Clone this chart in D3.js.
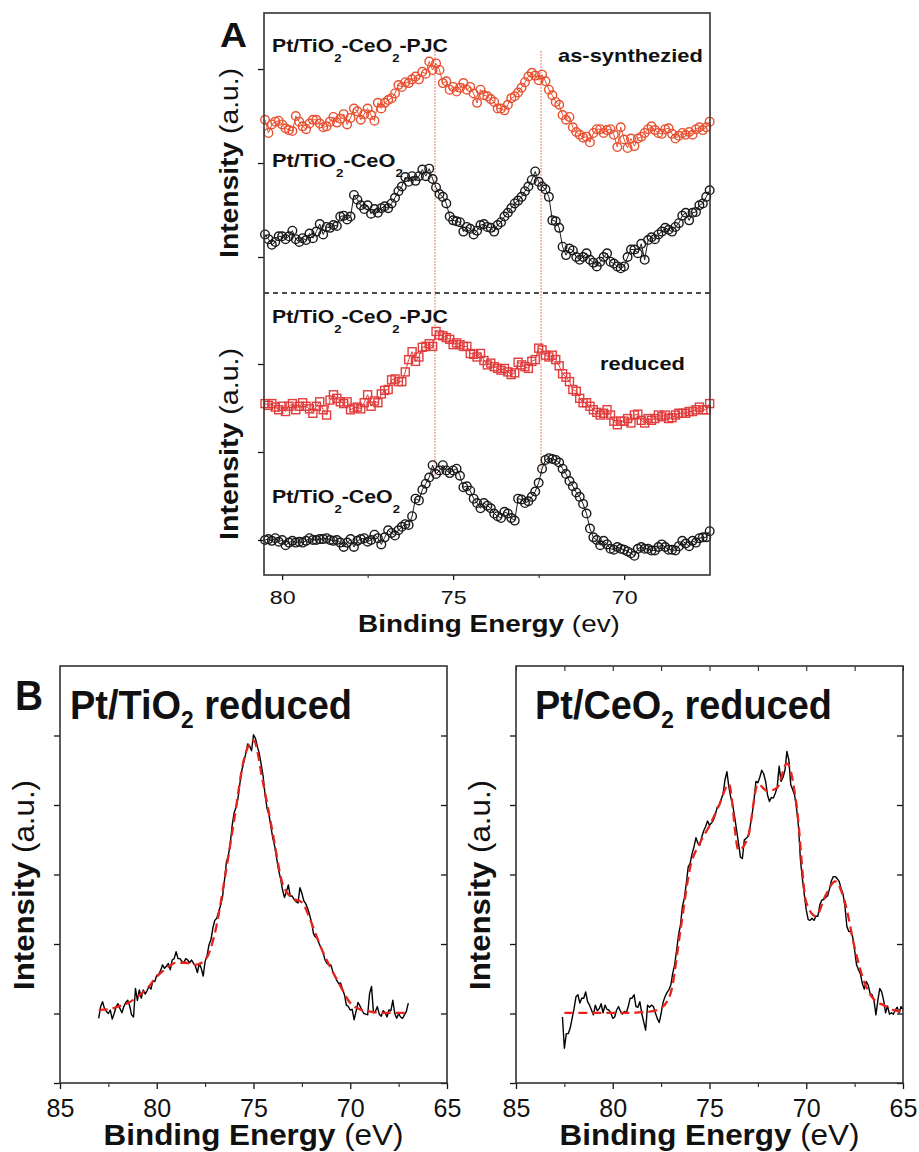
<!DOCTYPE html>
<html>
<head>
<meta charset="utf-8">
<script src="https://cdn.jsdelivr.net/npm/d3@7"></script>
<style>
  body { margin: 0; background: #fff; }
  svg { display: block; }
  text { white-space: pre; }
</style>
</head>
<body>
<div id="chart"></div>
<script>
// ---- Panel A data: Pt 4f XPS, 80.5 -> 67.5 eV in 0.1 eV steps ----
var eStartA = 80.5;
var eStepA = 0.1;

// as-synthesized, Pt/TiO2-CeO2-PJC (red circles)
var asSynPJC = [
  14.6, 13.2, 14.1, 14.4, 14.5, 14.1, 13.7, 13.5, 13.4, 15.0,
  14.4, 13.9, 13.6, 14.2, 14.6, 14.6, 14.2, 13.8, 13.9, 14.4,
  14.9, 14.3, 14.7, 15.2, 14.1, 14.8, 15.8, 15.5, 14.6, 15.2,
  15.8, 15.1, 14.5, 16.4, 15.8, 16.4, 16.7, 16.9, 17.4, 18.3,
  18.1, 18.6, 18.5, 18.9, 19.2, 18.9, 19.7, 19.5, 20.8, 19.9,
  20.6, 19.9, 18.5, 18.7, 17.8, 18.1, 17.6, 18.0, 18.5, 17.8,
  18.1, 17.4, 16.4, 17.8, 17.2, 17.1, 16.8, 16.5, 15.8, 15.8,
  15.6, 16.2, 16.9, 17.1, 17.5, 18.0, 18.6, 19.2, 19.6, 19.3,
  18.8, 19.4, 18.7, 17.8, 17.2, 16.5, 16.2, 15.1, 14.6, 14.9,
  13.8, 13.3, 13.0, 12.7, 12.8, 12.2, 13.2, 13.6, 13.6, 13.2,
  13.5, 13.6, 13.0, 11.7, 13.8, 12.5, 11.6, 12.6, 11.8, 12.6,
  12.8, 13.2, 13.6, 13.9, 13.5, 13.2, 13.1, 13.6, 13.7, 13.1,
  12.6, 12.9, 13.2, 13.0, 13.3, 13.0, 13.6, 13.8, 13.5, 13.8,
  14.4
];

// as-synthesized, Pt/TiO2-CeO2 (black circles)
var asSynTC = [
  2.4, 1.9, 1.3, 1.6, 2.2, 2.2, 1.9, 2.2, 2.8, 1.9,
  1.6, 2.0, 1.8, 2.5, 2.0, 2.7, 3.5, 2.4, 3.2, 3.1,
  3.4, 3.3, 4.3, 4.4, 4.0, 4.3, 6.6, 6.1, 5.5, 5.1,
  5.5, 4.6, 5.1, 4.7, 5.2, 5.4, 5.2, 5.7, 6.3, 7.0,
  7.5, 8.5, 8.0, 8.6, 8.1, 8.6, 9.3, 8.6, 9.4, 8.3,
  7.4, 6.7, 6.4, 5.7, 4.3, 3.9, 3.8, 3.7, 2.7, 3.2,
  3.0, 2.4, 2.8, 3.4, 3.5, 3.2, 3.1, 2.7, 3.4, 3.7,
  4.3, 4.7, 5.2, 5.7, 6.0, 6.4, 7.0, 7.5, 8.2, 9.1,
  8.0, 7.5, 7.2, 6.4, 3.9, 3.8, 3.1, 1.1, 0.2, 0.9,
  0.7, 0.0, -0.3, 0.0, 0.4, -0.3, -0.6, -1.0, -0.5, 0.0,
  0.4, -0.5, -0.7, -1.0, -1.2, -1.0, 0.0, 0.8, 0.8, 0.4,
  1.4, -0.3, 1.8, 2.1, 1.9, 2.4, 2.7, 3.1, 2.9, 2.7,
  3.2, 3.6, 4.4, 4.7, 3.9, 4.7, 4.8, 5.5, 5.7, 6.4,
  7.1
];

// reduced, Pt/TiO2-CeO2-PJC (red squares)
var redPJC = [
  15.5, 15.3, 15.5, 15.1, 14.8, 15.2, 14.6, 15.2, 15.5, 14.8,
  15.2, 15.6, 15.2, 14.9, 14.4, 15.2, 15.7, 14.8, 14.2, 15.9,
  16.5, 16.1, 15.7, 15.5, 15.7, 14.8, 15.0, 15.1, 14.9, 15.6,
  16.5, 15.2, 15.8, 15.6, 16.6, 17.0, 17.1, 18.2, 18.3, 18.0,
  18.0, 19.1, 20.5, 21.4, 20.3, 20.8, 21.9, 22.0, 22.3, 22.0,
  23.7, 23.3, 23.2, 23.0, 22.8, 22.2, 22.4, 22.2, 22.0, 22.0,
  21.2, 21.1, 20.8, 21.2, 20.4, 19.9, 20.1, 19.7, 19.5, 19.3,
  19.5, 19.1, 18.8, 19.0, 20.2, 19.9, 19.7, 19.5, 20.3, 20.5,
  21.8, 21.6, 21.0, 20.8, 21.0, 20.5, 19.8, 18.9, 18.5, 18.0,
  17.1, 16.9, 16.1, 15.6, 15.6, 15.2, 14.8, 14.5, 14.2, 14.4,
  14.8, 14.2, 13.5, 13.1, 13.5, 13.5, 13.8, 13.3, 14.2, 14.3,
  13.6, 13.3, 13.8, 13.6, 13.8, 14.2, 14.0, 14.2, 13.8, 13.9,
  14.2, 14.4, 14.4, 14.4, 14.6, 14.6, 14.8, 15.1, 14.8, 14.8,
  15.5
];

// reduced, Pt/TiO2-CeO2 (black circles)
var redTC = [
  0.0, 0.1, -0.1, 0.2, -0.2, 0.0, -0.6, -0.3, -0.1, -0.3,
  -0.2, -0.3, -0.1, 0.2, 0.0, 0.0, 0.1, 0.1, 0.2, 0.0,
  -0.1, 0.0, -0.3, -0.8, -0.3, 0.1, -0.8, -0.1, 0.1, 0.2,
  -0.2, 0.0, 0.6, 0.2, -0.5, 0.3, 1.1, 0.8, 0.5, 1.1,
  1.5, 1.8, 1.7, 2.7, 4.7, 4.5, 5.7, 6.4, 7.1, 8.5,
  7.5, 7.9, 8.5, 7.9, 7.6, 7.9, 8.1, 7.3, 6.0, 6.1,
  5.6, 4.7, 4.2, 3.6, 4.2, 3.9, 3.6, 3.0, 2.7, 2.5,
  3.2, 3.0, 2.5, 2.2, 4.7, 4.6, 4.2, 4.4, 4.9, 5.5,
  6.5, 8.1, 9.1, 9.3, 9.2, 9.1, 8.8, 8.1, 7.5, 6.7,
  6.1, 5.4, 4.9, 4.1, 3.0, 1.3, 0.3, 0.0, -0.6, -0.1,
  -0.5, -1.0, -1.1, -0.8, -1.0, -1.1, -1.3, -1.5, -1.8, -1.0,
  -0.8, -1.0, -1.0, -1.2, -1.2, -0.8, -0.5, -0.8, -1.1, -1.1,
  -1.2, -0.7, -0.1, -0.4, -0.7, -0.1, -0.3, 0.2, 0.3, 0.3,
  1.0
];

var xTicksA = [80, 75, 70];
var xMinorA = [77.5, 72.5];
var yTicksA = [0, 10, 20];
var peakEnergies = [75.53, 72.43];

// ---- Panel B data ----
var xTicksB = [85, 80, 75, 70, 65];
var xMinorB = [82.5, 77.5, 72.5, 67.5];
var yTicksB = [0, 1, 2, 3, 4, 5];
var eStepB = 0.1;
var fitStepB = 0.5;

// Pt/TiO2 reduced, measured 83.0 -> 67.0 eV
var tiStart = 83.0;
var tiRaw = [
  0.93, 1.10, 1.17, 1.07, 1.03, 1.00, 1.05, 0.92, 1.00, 1.10,
  1.14, 1.07, 1.01, 1.10, 1.16, 1.19, 1.11, 0.98, 0.95, 1.36,
  1.19, 1.34, 1.22, 1.34, 1.28, 1.33, 1.39, 1.35, 1.47, 1.46,
  1.55, 1.56, 1.62, 1.70, 1.65, 1.68, 1.72, 1.63, 1.77, 1.79,
  1.89, 1.79, 1.79, 1.75, 1.73, 1.79, 1.77, 1.73, 1.77, 1.72,
  1.68, 1.59, 1.72, 1.65, 1.54, 1.75, 1.83, 1.99, 2.06, 2.23,
  2.34, 2.37, 2.46, 2.56, 2.68, 2.92, 3.18, 3.27, 3.45, 3.71,
  3.89, 3.97, 4.10, 4.32, 4.50, 4.62, 4.74, 4.88, 4.85, 4.78,
  5.01, 4.96, 4.84, 4.74, 4.58, 4.41, 4.14, 3.95, 3.86, 3.69,
  3.52, 3.40, 3.23, 3.06, 2.94, 2.78, 2.67, 2.75, 2.85, 2.69,
  2.69, 2.64, 2.61, 2.59, 2.81, 2.73, 2.62, 2.58, 2.51, 2.42,
  2.31, 2.15, 2.10, 2.08, 2.00, 1.94, 1.87, 1.77, 1.72, 1.70,
  1.70, 1.60, 1.54, 1.48, 1.43, 1.44, 1.35, 1.27, 1.12, 1.10,
  1.05, 1.06, 0.91, 1.03, 1.16, 1.11, 1.05, 1.00, 0.99, 0.98,
  1.29, 1.39, 1.01, 1.03, 1.10, 0.99, 0.96, 1.04, 1.01, 0.95,
  1.05, 1.04, 1.19, 1.00, 0.93, 1.00, 0.95, 0.93, 0.98, 1.03,
  1.15
];
var tiFit = [
  1.05, 1.06, 1.10, 1.15, 1.24, 1.36, 1.53, 1.65, 1.73, 1.73,
  1.70, 1.77, 2.15, 2.92, 3.78, 4.65, 4.93, 4.31, 3.59, 2.87,
  2.66, 2.60, 2.30, 1.94, 1.65, 1.39, 1.15, 1.06, 1.03, 1.01,
  1.01, 1.01, 1.01
];

// Pt/CeO2 reduced, measured 82.6 -> 65.0 eV
var ceStart = 82.6;
var ceRaw = [
  0.95, 0.50, 0.71, 0.71, 0.79, 0.93, 1.07, 1.24, 1.27, 1.15,
  1.22, 1.22, 1.31, 1.17, 1.12, 1.05, 0.98, 1.12, 1.04, 1.07,
  1.14, 1.01, 1.12, 1.06, 1.05, 1.01, 0.93, 0.95, 1.05, 1.10,
  1.03, 0.99, 1.03, 1.01, 1.10, 1.22, 1.22, 1.27, 1.10, 1.09,
  1.17, 1.00, 0.88, 0.76, 1.12, 1.09, 1.12, 1.10, 1.01, 0.93,
  0.87, 1.00, 1.16, 1.24, 1.30, 1.34, 1.41, 1.58, 1.70, 1.91,
  2.13, 2.27, 2.54, 2.66, 2.87, 3.11, 3.16, 3.30, 3.40, 3.53,
  3.45, 3.42, 3.54, 3.63, 3.69, 3.77, 3.71, 3.74, 3.78, 3.86,
  3.97, 3.99, 4.08, 4.16, 4.36, 4.48, 4.26, 4.11, 4.00, 3.83,
  3.64, 3.45, 3.25, 3.23, 3.50, 3.52, 3.55, 3.69, 3.86, 4.07,
  4.34, 4.32, 4.40, 4.50, 4.45, 4.34, 4.14, 4.05, 4.11, 4.10,
  4.17, 4.26, 4.56, 4.34, 4.40, 4.50, 4.77, 4.65, 4.29, 4.22,
  4.14, 3.95, 3.69, 3.21, 2.94, 2.71, 2.49, 2.35, 2.34, 2.37,
  2.34, 2.40, 2.40, 2.56, 2.63, 2.64, 2.67, 2.69, 2.79, 2.91,
  2.97, 2.97, 2.94, 2.90, 2.80, 2.72, 2.54, 2.25, 2.18, 2.18,
  2.10, 1.91, 1.70, 1.63, 1.57, 1.43, 1.35, 1.46, 1.41, 1.29,
  1.27, 1.19, 0.98, 1.19, 1.36, 1.31, 1.19, 1.01, 1.11, 0.99,
  1.01, 0.99, 1.05, 1.09, 1.01, 1.10, 1.06
];
var ceFitStart = 82.5;
var ceFit = [
  1.01, 1.01, 1.01, 1.01, 1.01, 1.01, 1.01, 1.01, 1.02, 1.03,
  1.08, 1.30, 2.20, 3.10, 3.45, 3.70, 4.00, 4.30, 3.35, 3.55,
  4.30, 4.20, 4.25, 4.60, 4.00, 2.60, 2.40, 2.70, 2.90, 2.60,
  1.95, 1.45, 1.20, 1.12, 1.05, 1.03
];

var FONT = "'Liberation Sans', Arial, Helvetica, sans-serif";
var INK = "#111";

var svgWidth = 919;
var svgHeight = 1152;

var svg = d3.select("#chart")
  .append("svg")
  .attr("width", svgWidth)
  .attr("height", svgHeight)
  .attr("font-family", FONT);

svg.append("rect")
  .attr("width", svgWidth)
  .attr("height", svgHeight)
  .attr("fill", "#fff");

function toPoints(vals, e0, step) {
  return vals.map(function(v, i) {
    return { e: e0 - step * i, v: v };
  });
}

// text with bold/normal runs and chemical subscripts, stretched to a target width
function label(x, y, parts, size, width, opt) {
  opt = opt || {};
  var g = svg.append("g")
    .attr("transform", "translate(" + x + "," + y + ")" + (opt.rotate ? " rotate(" + opt.rotate + ")" : ""));
  var t = g.append("text")
    .attr("font-size", size)
    .attr("font-weight", "bold")
    .attr("text-anchor", opt.anchor || "start")
    .attr("fill", INK);
  var down = 0;
  parts.forEach(function(p) {
    var s = t.append("tspan").text(p.t);
    if (p.normal) s.attr("font-weight", "normal");
    if (p.sub) {
      s.attr("font-size", opt.subSize).attr("dy", opt.subDy);
      down = opt.subDy;
    } else if (down) {
      s.attr("dy", -down);
      down = 0;
    }
  });
  if (width) {
    var w0 = t.node().getBBox().width;
    t.attr("transform", "scale(" + (width / w0) + ",1)");
  }
  return t;
}

var intensityParts = [{ t: "Intensity" }, { t: " (a.u.)", normal: true }];

// =====================  Panel A  =====================
var boxA = { left: 264, right: 710, top: 13, mid: 293, bottom: 575 };

var xA = d3.scaleLinear().domain([80.53, 67.49]).range([boxA.left, boxA.right]);
var yAup = d3.scaleLinear().domain([-3.83, 25.96]).range([boxA.mid, boxA.top]);
var yAdown = d3.scaleLinear().domain([-3.98, 28.07]).range([boxA.bottom, boxA.mid]);

var gA = svg.append("g");

// guide lines through the two Pt 4f peaks
gA.selectAll(".peak")
  .data(peakEnergies)
  .enter()
  .append("line")
  .attr("x1", d => xA(d))
  .attr("x2", d => xA(d))
  .attr("y1", yAup(21.9))
  .attr("y2", yAdown(7.3))
  .attr("stroke", "#e8503a")
  .attr("stroke-width", 1)
  .attr("stroke-dasharray", "1.5,1.5");

// dashed separator between as-synthesized and reduced
gA.append("line")
  .attr("x1", boxA.left)
  .attr("x2", boxA.right)
  .attr("y1", yAup(yAup.domain()[0]))
  .attr("y2", yAup(yAup.domain()[0]))
  .attr("stroke", INK)
  .attr("stroke-width", 1.3)
  .attr("stroke-dasharray", "5,4");

function drawSeries(vals, y, color, shape) {
  var pts = toPoints(vals, eStartA, eStepA);
  gA.append("path")
    .datum(pts)
    .attr("fill", "none")
    .attr("stroke", color)
    .attr("stroke-width", 1)
    .attr("d", d3.line().x(d => xA(d.e)).y(d => y(d.v)));
  if (shape === "square") {
    gA.append("g").selectAll("rect")
      .data(pts)
      .enter()
      .append("rect")
      .attr("x", d => xA(d.e) - 4)
      .attr("y", d => y(d.v) - 4)
      .attr("width", 8)
      .attr("height", 8)
      .attr("fill", "none")
      .attr("stroke", color)
      .attr("stroke-width", 1.4);
  } else {
    gA.append("g").selectAll("circle")
      .data(pts)
      .enter()
      .append("circle")
      .attr("cx", d => xA(d.e))
      .attr("cy", d => y(d.v))
      .attr("r", 4.3)
      .attr("fill", "none")
      .attr("stroke", color)
      .attr("stroke-width", 1.4);
  }
}

drawSeries(asSynPJC, yAup, "#e8502f", "circle");
drawSeries(asSynTC, yAup, "#1a1a1a", "circle");
drawSeries(redPJC, yAdown, "#e23c3c", "square");
drawSeries(redTC, yAdown, "#1a1a1a", "circle");

// axes
gA.append("g")
  .attr("transform", `translate(0, ${boxA.bottom})`)
  .attr("color", INK)
  .call(d3.axisBottom(xA).tickValues(xTicksA).tickSize(5).tickPadding(11).tickFormat(d3.format("d")))
  .call(g => g.select(".domain").remove())
  .call(g => g.selectAll("line").attr("stroke-width", 1.3))
  .call(g => g.selectAll("text").attr("font-size", 19).attr("font-family", FONT).attr("transform", "scale(1.22,1)"));

gA.append("g")
  .attr("transform", `translate(0, ${boxA.bottom})`)
  .attr("color", INK)
  .call(d3.axisBottom(xA).tickValues(xMinorA).tickSize(3).tickFormat(""))
  .call(g => g.select(".domain").remove());

[yAup, yAdown].forEach(function(y) {
  gA.append("g")
    .attr("transform", `translate(${boxA.left}, 0)`)
    .attr("color", INK)
    .call(d3.axisLeft(y).tickValues(yTicksA).tickSize(6).tickFormat(""))
    .call(g => g.select(".domain").remove())
    .call(g => g.selectAll("line").attr("stroke-width", 1.3));
});

gA.append("rect")
  .attr("x", boxA.left)
  .attr("y", boxA.top)
  .attr("width", boxA.right - boxA.left)
  .attr("height", boxA.bottom - boxA.top)
  .attr("fill", "none")
  .attr("stroke", "#333")
  .attr("stroke-width", 1.6);

// panel A texts
var pjcParts = [{ t: "Pt/TiO" }, { t: "2", sub: true }, { t: "-CeO" }, { t: "2", sub: true }, { t: "-PJC" }];
var tcParts = [{ t: "Pt/TiO" }, { t: "2", sub: true }, { t: "-CeO" }, { t: "2", sub: true }];
var subA = { subSize: 11, subDy: 10 };

label(220, 47, [{ t: "A" }], 35, 27);
label(272, 52, pjcParts, 18, 176, subA);
label(272, 167, tcParts, 18, 131, subA);
label(558, 62, [{ t: "as-synthezied" }], 18, 145);
label(272, 323, pjcParts, 18, 176, subA);
label(600, 370, [{ t: "reduced" }], 18, 85);
label(272, 503, tcParts, 18, 128, subA);
label(238, 163, intensityParts, 26, 190, { rotate: -90, anchor: "middle" });
label(238, 444, intensityParts, 26, 192, { rotate: -90, anchor: "middle" });
label(489, 632, [{ t: "Binding Energy" }, { t: " (ev)", normal: true }], 23, 262, { anchor: "middle" });

// =====================  Panel B  =====================
var xDomainB = [85, 65];
var yDomainB = [0, 6];

function panelB(left, raw, rawStart, fit, fitStart, topTicks) {
  var right = left + 387;
  var top = 666, bottom = 1083;
  var x = d3.scaleLinear().domain(xDomainB).range([left, right]);
  var y = d3.scaleLinear().domain(yDomainB).range([bottom, top]);
  var g = svg.append("g");

  var line = d3.line().x(d => x(d.e)).y(d => y(d.v));

  g.append("path")
    .datum(toPoints(raw, rawStart, eStepB))
    .attr("fill", "none")
    .attr("stroke", "#000")
    .attr("stroke-width", 1.4)
    .attr("stroke-linejoin", "round")
    .attr("d", line);

  g.append("path")
    .datum(toPoints(fit, fitStart, fitStepB))
    .attr("fill", "none")
    .attr("stroke", "#e8231c")
    .attr("stroke-width", 2.3)
    .attr("stroke-dasharray", "9,5")
    .attr("d", line.curve(d3.curveMonotoneX));

  g.append("g")
    .attr("transform", `translate(0, ${bottom})`)
    .attr("color", INK)
    .call(d3.axisBottom(x).tickValues(xTicksB).tickSize(6).tickPadding(10).tickFormat(d3.format("d")))
    .call(a => a.select(".domain").remove())
    .call(a => a.selectAll("line").attr("stroke-width", 1.3))
    .call(a => a.selectAll("text").attr("font-size", 25).attr("font-family", FONT));

  g.append("g")
    .attr("transform", `translate(0, ${bottom})`)
    .attr("color", INK)
    .call(d3.axisBottom(x).tickValues(xMinorB).tickSize(4).tickFormat(""))
    .call(a => a.select(".domain").remove());

  if (topTicks) {
    g.append("g")
      .attr("transform", `translate(0, ${top})`)
      .attr("color", INK)
      .call(d3.axisBottom(x).tickValues(xTicksB.concat(xMinorB)).tickSize(5).tickFormat(""))
      .call(a => a.select(".domain").remove());
  }

  g.append("g")
    .attr("transform", `translate(${left}, 0)`)
    .attr("color", INK)
    .call(d3.axisLeft(y).tickValues(yTicksB).tickSize(6).tickFormat(""))
    .call(a => a.select(".domain").remove())
    .call(a => a.selectAll("line").attr("stroke-width", 1.3));

  g.append("g")
    .attr("transform", `translate(${right}, 0)`)
    .attr("color", INK)
    .call(d3.axisLeft(y).tickValues(yTicksB).tickSize(6).tickFormat(""))
    .call(a => a.select(".domain").remove())
    .call(a => a.selectAll("line").attr("stroke-width", 1.3));

  g.append("rect")
    .attr("x", left)
    .attr("y", top)
    .attr("width", right - left)
    .attr("height", bottom - top)
    .attr("fill", "none")
    .attr("stroke", "#333")
    .attr("stroke-width", 1.6);

  label((left + right) / 2, 1145, [{ t: "Binding Energy" }, { t: " (eV)", normal: true }], 29, 300, { anchor: "middle" });
}

panelB(60, tiRaw, tiStart, tiFit, tiStart, false);
panelB(516, ceRaw, ceStart, ceFit, ceFitStart, true);

var subB = { subSize: 24, subDy: 9 };
label(15, 710, [{ t: "B" }], 42, 28);
label(70, 719, [{ t: "Pt/TiO" }, { t: "2", sub: true }, { t: " reduced" }], 40, 282, subB);
label(535, 719, [{ t: "Pt/CeO" }, { t: "2", sub: true }, { t: " reduced" }], 40, 297, subB);
label(34, 885, intensityParts, 30, 210, { rotate: -90, anchor: "middle" });
label(490, 885, intensityParts, 30, 210, { rotate: -90, anchor: "middle" });
</script>
</body>
</html>
